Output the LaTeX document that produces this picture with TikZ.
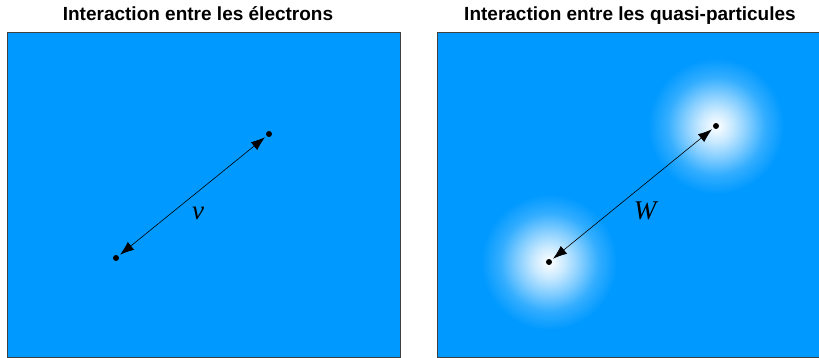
\documentclass[tikz,border=0pt]{standalone}
\usepackage{fontspec}
\setmainfont{Liberation Serif}
\setsansfont{Liberation Sans}
\usetikzlibrary{arrows.meta}
\definecolor{panelblue}{HTML}{0099FF}
\pgfdeclareradialshading{glow}{\pgfpoint{0bp}{0bp}}{color(0bp)=(white); color(6bp)=(panelblue!22); color(12bp)=(panelblue!50); color(18bp)=(panelblue!80); color(25bp)=(panelblue); color(50bp)=(panelblue)}
\tikzset{
  panel/.style={draw=black!75, fill=panelblue, line width=0.9pt},
  paneltitle/.style={font=\sffamily\bfseries\fontsize{19}{21}\selectfont, anchor=base, inner sep=0pt},
  particle/.style={circle, fill=black, inner sep=0pt, minimum size=6pt},
  interaction/.style={{Latex[length=14pt,width=10pt]}-{Latex[length=14pt,width=10pt]},
                      line width=0.6pt, shorten <=2pt, shorten >=2pt},
  coupling/.style={font=\itshape\fontsize{27}{29}\selectfont},
}

\begin{document}
\begin{tikzpicture}[x=1pt, y=-1pt]
  \useasboundingbox (0,0) rectangle (819,358);

  % panels
  \draw[panel] (7,32) rectangle (400,357);
  \draw[panel] (437,32) rectangle (830,357);
  \node[paneltitle] (titleleft) at (198,21) {Interaction entre les électrons};
  \node[paneltitle] (titleright) at (630,21) {Interaction entre les quasi-particules};

  % bare electrons
  \node[particle] (ea) at (116,258) {};
  \node[particle] (eb) at (269,134) {};
  \draw[interaction] (ea) -- (eb);
  \node[coupling] (vlabel) at (198,213) {v};

  % dressed quasi-particles
  \shade[shading=glow] (549,262) circle (68);
  \shade[shading=glow] (716,126) circle (68);
  \node[particle] (qa) at (549,262) {};
  \node[particle] (qb) at (716,126) {};
  \draw[interaction] (qa) -- (qb);
  \node[coupling] (wlabel) at (645,211) {W};
\end{tikzpicture}
\end{document}
